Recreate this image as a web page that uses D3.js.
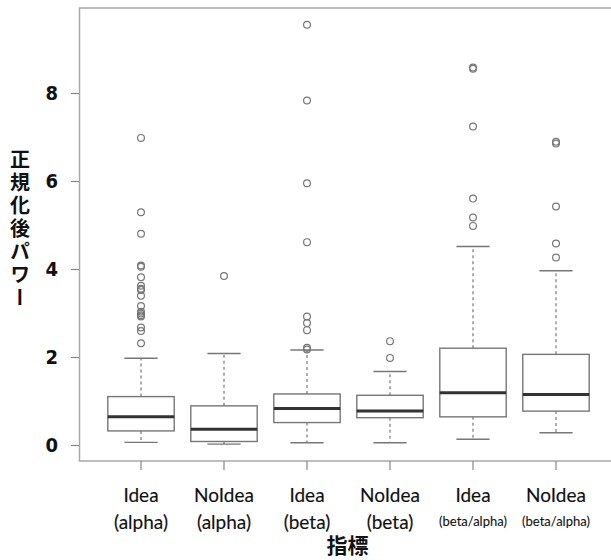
<!DOCTYPE html>
<html>
<head>
<meta charset="utf-8">
<script src="https://cdn.jsdelivr.net/npm/d3@7"></script>
<style>
  body { margin: 0; background: #fff; }
  svg { display: block; font-family: Lato, "Open Sans", sans-serif; }
</style>
</head>
<body>
<svg width="611" height="560"></svg>
<script>
// boxplot stats
const groups = ["Idea (alpha)", "NoIdea (alpha)", "Idea (beta)", "NoIdea (beta)", "Idea (beta/alpha)", "NoIdea (beta/alpha)"];
const labelTop = ["Idea", "NoIdea", "Idea", "NoIdea", "Idea", "NoIdea"];
const labelBottom = ["(alpha)", "(alpha)", "(beta)", "(beta)", "(beta/alpha)", "(beta/alpha)"];
const whiskerLow = [0.06, 0.02, 0.05, 0.05, 0.13, 0.28];
const q1 = [0.32, 0.08, 0.51, 0.62, 0.64, 0.77];
const median = [0.64, 0.36, 0.83, 0.77, 1.19, 1.15];
const q3 = [1.10, 0.89, 1.16, 1.13, 2.20, 2.06];
const whiskerHigh = [1.97, 2.08, 2.16, 1.67, 4.51, 3.96];
const outliers = [
  [6.98, 5.29, 4.80, 4.08, 4.05, 3.81, 3.62, 3.55, 3.52, 3.39, 3.16, 3.03, 2.99, 2.95, 2.92, 2.67, 2.59, 2.31],
  [3.84],
  [9.55, 7.83, 5.95, 4.61, 2.92, 2.77, 2.61, 2.21, 2.17],
  [2.36, 1.98],
  [8.58, 8.55, 7.24, 5.60, 5.17, 4.98],
  [6.89, 6.85, 5.42, 4.58, 4.26]
];
const yTicks = [0, 2, 4, 6, 8];
const yTitle = "正規化後パワー";
const xTitle = "指標";

const svg = d3.select("svg");

const x = d3.scaleBand().domain(groups).range([99.5, 597.5]);
const y = d3.scaleLinear().domain([0, 8]).range([445, 93]);

const frame = { left: 79.5, right: 618, top: 8, bottom: 461 };
const boxW = x.bandwidth() * 0.8;
const capW = boxW / 2;
const cx = (g) => x(g) + x.bandwidth() / 2;

svg.append("rect")
  .attr("x", frame.left).attr("y", frame.top)
  .attr("width", frame.right - frame.left).attr("height", frame.bottom - frame.top)
  .attr("fill", "none").attr("stroke", "#a8a8a8").attr("stroke-width", 1.5);

// y axis
const yAxis = d3.axisLeft(y).tickValues(yTicks).tickSize(8).tickPadding(13);
svg.append("g")
  .attr("transform", `translate(${frame.left - 0.5},0)`)
  .call(yAxis)
  .call((g) => {
    g.select(".domain").remove();
    g.selectAll(".tick line").attr("stroke", "#888").attr("stroke-width", 1.2);
    g.selectAll(".tick text")
      .attr("fill", "#111").attr("font-size", 20).attr("font-weight", "bold")
      .attr("font-family", "'Liberation Sans Narrow', 'DejaVu Sans Condensed', 'Liberation Sans', sans-serif");
  });

// x axis
const xAxis = d3.axisBottom(x).tickSize(9).tickFormat("");
svg.append("g")
  .attr("transform", `translate(0,${frame.bottom})`)
  .call(xAxis)
  .call((g) => {
    g.select(".domain").remove();
    g.selectAll(".tick line").attr("stroke", "#888").attr("stroke-width", 1.2);
  });

const boxes = svg.append("g").selectAll("g")
  .data(groups)
  .join("g")
  .attr("transform", (g) => `translate(${cx(g)},0)`);

// dashed whiskers
boxes.append("line")
  .attr("y1", (g, i) => y(q3[i])).attr("y2", (g, i) => y(whiskerHigh[i]))
  .attr("stroke", "#777").attr("stroke-dasharray", "3,3").attr("stroke-width", 1.2);
boxes.append("line")
  .attr("y1", (g, i) => y(q1[i])).attr("y2", (g, i) => y(whiskerLow[i]))
  .attr("stroke", "#777").attr("stroke-dasharray", "3,3").attr("stroke-width", 1.2);

// caps
boxes.selectAll(".cap")
  .data((g, i) => [whiskerLow[i], whiskerHigh[i]])
  .join("line")
  .attr("class", "cap")
  .attr("x1", -capW / 2).attr("x2", capW / 2)
  .attr("y1", (v) => y(v)).attr("y2", (v) => y(v))
  .attr("stroke", "#777").attr("stroke-width", 1.4);

// box
boxes.append("rect")
  .attr("x", -boxW / 2).attr("width", boxW)
  .attr("y", (g, i) => y(q3[i]))
  .attr("height", (g, i) => y(q1[i]) - y(q3[i]))
  .attr("fill", "#fff").attr("stroke", "#777").attr("stroke-width", 1.4);

// median
boxes.append("line")
  .attr("x1", -boxW / 2).attr("x2", boxW / 2)
  .attr("y1", (g, i) => y(median[i])).attr("y2", (g, i) => y(median[i]))
  .attr("stroke", "#333").attr("stroke-width", 3);

// outliers
boxes.selectAll("circle")
  .data((g, i) => outliers[i])
  .join("circle")
  .attr("cy", (v) => y(v)).attr("r", 3.4)
  .attr("fill", "none").attr("stroke", "#777").attr("stroke-width", 1.2);

// x labels
const labels = svg.append("g").selectAll("g")
  .data(groups)
  .join("g")
  .attr("transform", (g) => `translate(${cx(g)},0)`)
  .attr("text-anchor", "middle").attr("fill", "#111")
  .attr("stroke", "#111").attr("stroke-width", 0.15);
labels.append("text")
  .attr("y", 502).attr("font-size", 19)
  .text((g, i) => labelTop[i]);
labels.append("text")
  .attr("y", (g, i) => labelBottom[i].length > 8 ? 526 : 529)
  .attr("font-size", (g, i) => labelBottom[i].length > 8 ? 13 : 19)
  .attr("stroke-width", (g, i) => labelBottom[i].length > 8 ? 0.1 : 0.15)
  .text((g, i) => labelBottom[i]);

svg.append("text")
  .attr("x", (x.range()[0] + x.range()[1]) / 2 - 1).attr("y", 553)
  .attr("text-anchor", "middle")
  .attr("font-family", "Noto Sans CJK JP")
  .attr("font-size", 21).attr("font-weight", "bold").attr("fill", "#111")
  .text(xTitle);

// vertical y title
svg.append("text")
  .attr("x", 20).attr("y", 149)
  .attr("font-family", "Noto Sans CJK JP")
  .attr("font-size", 20).attr("font-weight", "bold").attr("fill", "#111")
  .style("writing-mode", "vertical-rl")
  .style("text-orientation", "upright")
  .attr("letter-spacing", 3)
  .text(yTitle);
</script>
</body>
</html>
